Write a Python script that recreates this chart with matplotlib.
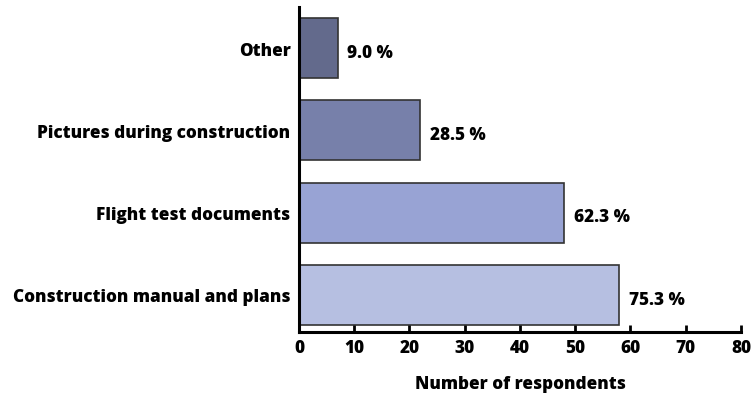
import matplotlib.pyplot as plt

plt.rcParams["font.family"] = ["Open Sans", "DejaVu Sans"]
plt.rcParams["font.weight"] = "bold"

categories = ["Construction manual and plans", "Flight test documents",
              "Pictures during construction", "Other"]
respondents = [58, 48, 22, 7]
percent_labels = ["75.3 %", "62.3 %", "28.5 %", "9.0 %"]
colors = ["#b6bfe1", "#98a3d4", "#7780aa", "#636a8c"]
x_ticks = [0, 10, 20, 30, 40, 50, 60, 70, 80]

fs = 12.3
fig = plt.figure(figsize=(7.53, 4.06), dpi=100)
ax = fig.add_axes([0.397, 0.180, 0.587, 0.800])

y = list(range(len(categories)))
ax.barh(y, respondents, height=0.73, color=colors, edgecolor="#333333", linewidth=1.2)
for yi, v, lab in zip(y, respondents, percent_labels):
    ax.annotate(lab, (v, yi), xytext=(7, -3), textcoords="offset points",
                ha="left", va="center", fontsize=fs, fontweight=800)

ax.set_xlim(0, 80)
ax.set_ylim(-0.45, 3.5)
ax.set_xticks(x_ticks)
ax.set_yticks(y)
ax.set_yticklabels(categories)
ax.tick_params(axis="x", direction="in", length=5, width=2, labelsize=fs, pad=5)
ax.tick_params(axis="y", length=0, labelsize=fs, pad=6)
for lab in ax.get_xticklabels() + ax.get_yticklabels():
    lab.set_fontweight(800)
for side in ("top", "right"):
    ax.spines[side].set_visible(False)
for side in ("left", "bottom"):
    ax.spines[side].set_linewidth(2.2)
ax.set_xlabel("Number of respondents", fontsize=fs, fontweight=800, labelpad=14)

fig.savefig("out.png", dpi=100)
